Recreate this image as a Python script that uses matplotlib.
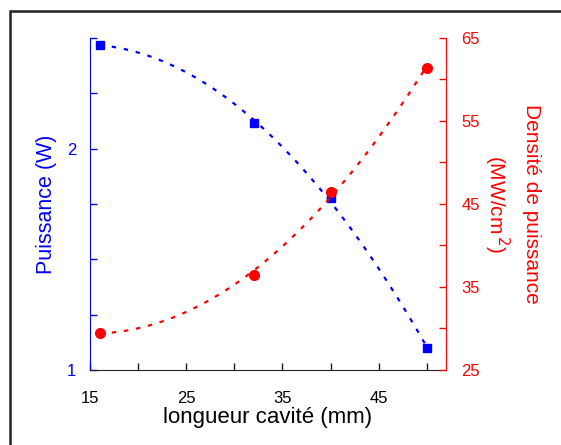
"""
Puissance et densité de puissance en fonction de la longueur de cavité.
"""

import numpy as np
import matplotlib
matplotlib.use("Agg")
import matplotlib.pyplot as plt
from matplotlib.patches import Rectangle
from matplotlib.ticker import MultipleLocator

# données
longueur = [16, 32, 40, 50]                 # mm
puissance = [2.47, 2.118, 1.775, 1.10]      # W
densite = [29.5, 36.4, 46.5, 61.4]          # MW/cm2

x_ticks = [15, 25, 35, 45]
y1_ticks = [1, 2]
y2_ticks = [25, 35, 45, 55, 65]

plt.rcParams["font.family"] = ["Liberation Sans", "DejaVu Sans"]

fig = plt.figure(figsize=(5.61, 4.45), dpi=100)
ax = fig.add_axes([90 / 561, 1 - 370 / 445, (446 - 90) / 561, (370 - 38) / 445])
ax2 = ax.twinx()

# courbes de tendance (ajustement quadratique)
xf = np.linspace(min(longueur), max(longueur), 200)
p1 = np.polyfit(longueur, puissance, 2)
p2 = np.polyfit(longueur, densite, 2)
ax.plot(xf, np.polyval(p1, xf), color="blue", lw=1.6, ls=(0, (2, 3.5)))
ax2.plot(xf, np.polyval(p2, xf), color="red", lw=1.6, ls=(0, (2, 3.5)))

ax.plot(longueur, puissance, ls="none", marker="s", ms=6, color="blue")
ax2.plot(longueur, densite, ls="none", marker="o", ms=7, color="red")

ax.set_xlim(15, 52)
ax.set_ylim(1, 2.5)
ax2.set_ylim(25, 65)

ax.set_xticks(x_ticks)
ax.xaxis.set_minor_locator(MultipleLocator(5))
ax.set_yticks(y1_ticks)
ax.yaxis.set_minor_locator(MultipleLocator(0.25))
ax2.set_yticks(y2_ticks)
ax2.yaxis.set_minor_locator(MultipleLocator(5))

for a in (ax, ax2):
    a.spines["top"].set_visible(False)
    a.tick_params(which="both", direction="in", length=5, width=1)
ax.spines["right"].set_visible(False)
ax2.spines["left"].set_visible(False)
ax2.spines["bottom"].set_visible(False)

ax.spines["left"].set_color("blue")
ax.spines["bottom"].set_color("#222222")
ax2.spines["right"].set_color("red")

ax.tick_params(axis="x", which="both", colors="#222222", labelsize=12, pad=15)
ax.tick_params(axis="y", which="both", colors="blue", labelsize=12, pad=10)
ax2.tick_params(axis="y", which="both", colors="red", labelsize=12, pad=11)
ax.tick_params(axis="x", labelcolor="black")

ax.set_xlabel("longueur cavité (mm)", fontsize=16, color="black", labelpad=1)
ax.set_ylabel("Puissance (W)", fontsize=15.5, color="blue", labelpad=7)
ax2.set_ylabel("Densité de puissance\n(MW/cm$^{\\,2}$)", fontsize=15, color="red",
               rotation=-90, labelpad=44, linespacing=1.5)

# cadre autour de la figure
fig.add_artist(Rectangle((10 / 561, -0.1), 1.2, 1.1 - 11 / 445, transform=fig.transFigure,
                         fill=False, edgecolor="#222222", lw=1.8))

fig.savefig("out.png", dpi=100)
